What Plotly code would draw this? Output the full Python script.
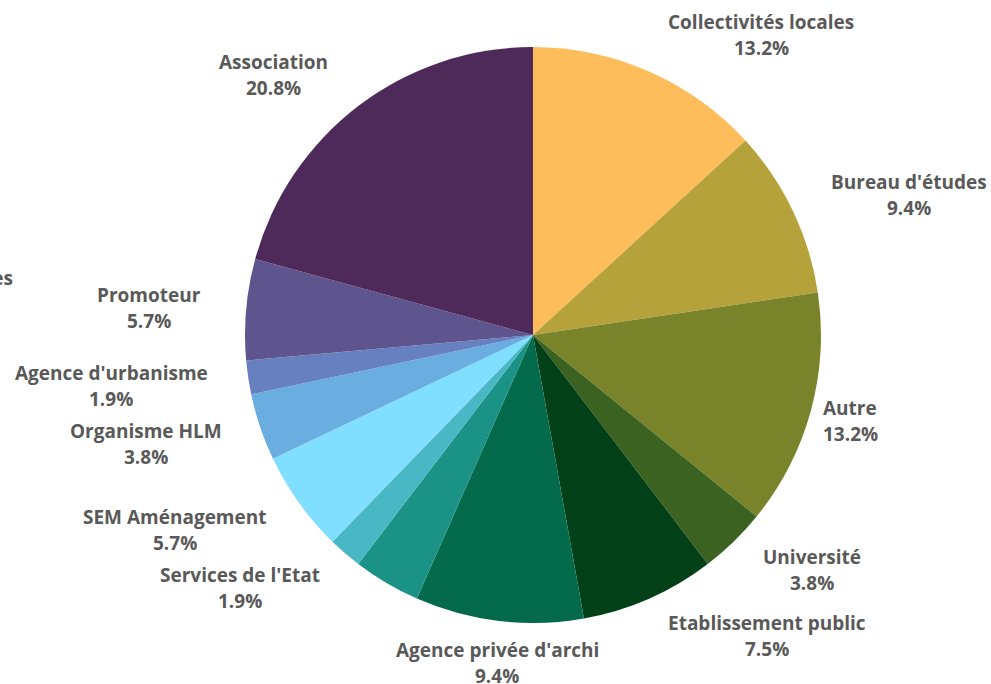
import plotly.graph_objects as go

# Répartition des structures (nombre de répondants)
categories = [
    "Collectivités locales",
    "Bureau d'études",
    "Autre",
    "Université",
    "Etablissement public",
    "Agence privée d'archi",
    "Paysagistes",
    "Services de l'Etat",
    "SEM Aménagement",
    "Organisme HLM",
    "Agence d'urbanisme",
    "Promoteur",
    "Association",
]
counts = [7, 5, 7, 2, 4, 5, 2, 1, 3, 2, 1, 3, 11]

colors = [
    "#FDBD5B", "#B5A23B", "#79832A", "#3B6221", "#024118", "#036A4B", "#1A9286",
    "#4AB8C4", "#80DEFE", "#6AADE0", "#6781C0", "#5E548E", "#4E2A5A",
]

W, H = 991, 684
# label centres in pixels (name line), percent goes one line below
label_px = [
    (761, 22), (909, 182), (850, 408), (812, 557), (767, 623), (497, 650),
    (None, 278), (240, 575), (175, 517), (146, 431), (111, 373), (149, 295),
    (273, 62),
]
CLIPPED_RIGHT = 15  # right edge of the label that runs off the left side
LINE_GAP = 26
TXT = "#595959"
FONT = dict(family="Open Sans", size=19, color=TXT)

# pie geometry in pixels: centre (533, 335), radius 288
cx, cy, r = 533, 335, 288

fig = go.Figure(
    go.Pie(
        labels=categories,
        values=counts,
        sort=False,
        direction="clockwise",
        rotation=0,
        marker=dict(colors=colors, line=dict(width=0)),
        textinfo="none",
        hoverinfo="label+percent",
        domain=dict(
            x=[(cx - r) / W, (cx + r) / W],
            y=[(H - cy - r) / H, (H - cy + r) / H],
        ),
    )
)


def ann(txt, x, y, anchor="center"):
    return dict(
        text=f"<b>{txt}</b>", x=x / W, y=1 - y / H,
        xref="paper", yref="paper", xanchor=anchor, yanchor="middle",
        showarrow=False, font=FONT,
    )


total = sum(counts)
annotations = []
for name, v, (px, py) in zip(categories, counts, label_px):
    pct = f"{100 * v / total:.1f}%"
    if px is None:
        # label pushed off the left edge: only its tail is visible
        annotations.append(ann(name, CLIPPED_RIGHT, py, "right"))
        annotations.append(ann(pct, CLIPPED_RIGHT - 55, py + LINE_GAP))
        continue
    annotations.append(ann(name, px, py))
    annotations.append(ann(pct, px, py + LINE_GAP))

fig.update_layout(
    width=W,
    height=H,
    margin=dict(l=0, r=0, t=0, b=0),
    paper_bgcolor="white",
    plot_bgcolor="white",
    showlegend=False,
    annotations=annotations,
)

# drop the default body margin so the figure fills the window
fig.write_html(
    "out.html",
    config={"displayModeBar": False},
    post_script="document.body.style.margin='0';",
)
